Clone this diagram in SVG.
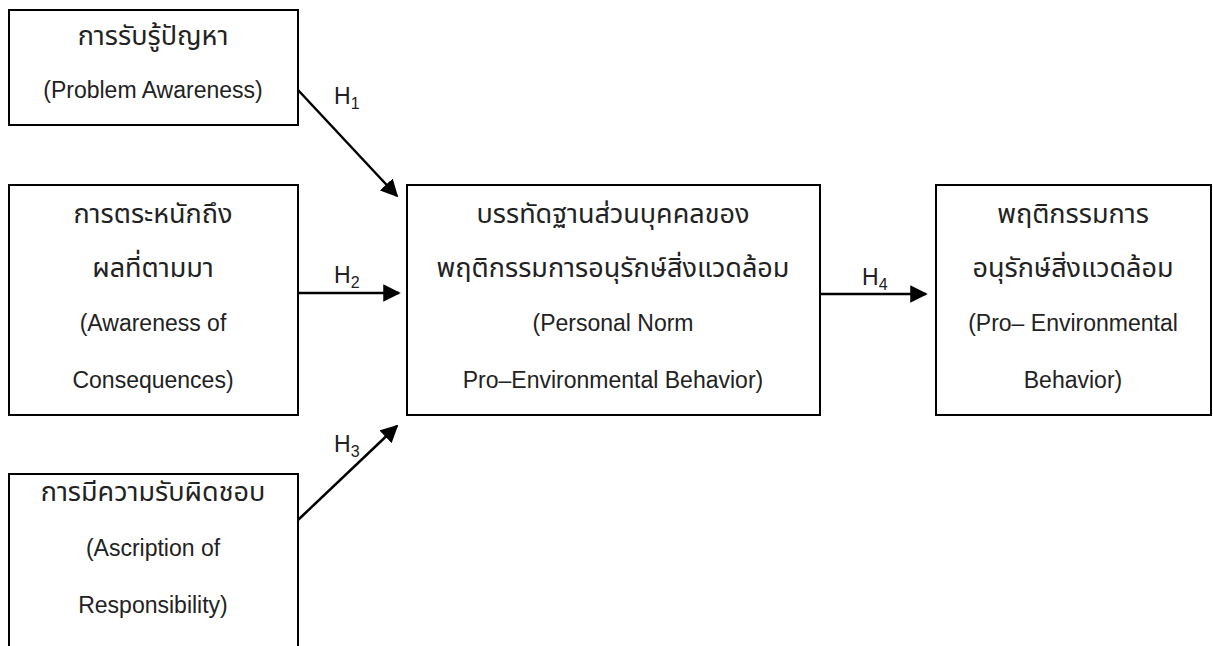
<svg xmlns="http://www.w3.org/2000/svg" width="1213" height="646" viewBox="0 0 1213 646">
<style>
.box{fill:#fff;stroke:#000;stroke-width:2}
.t{font-family:"Liberation Sans","Noto Sans","Noto Sans Thai",sans-serif;font-size:23px;fill:#222;text-anchor:middle}
.th{font-size:27px}
.lbl{font-family:"Liberation Sans","Noto Sans",sans-serif;font-size:23px;fill:#222}
.sub{font-size:16px}
.c{stroke:#000;stroke-width:2.5;fill:none;marker-end:url(#ah)}
</style>
<defs>
<marker id="ah" viewBox="0 0 10 10" refX="9" refY="5" markerWidth="7" markerHeight="7" markerUnits="strokeWidth" orient="auto">
<path d="M0,0 L10,5 L0,10 z" fill="#000"/>
</marker>
</defs>
<g id="connectors">
<line class="c" x1="298" y1="90" x2="397" y2="196"/>
<line class="c" x1="298" y1="293" x2="399" y2="293"/>
<line class="c" x1="298" y1="520" x2="397" y2="426"/>
<line class="c" x1="820" y1="294" x2="926" y2="294"/>
<text class="lbl" x="334" y="104">H<tspan class="sub" dy="5">1</tspan></text>
<text class="lbl" x="334" y="283">H<tspan class="sub" dy="5">2</tspan></text>
<text class="lbl" x="334" y="452">H<tspan class="sub" dy="5">3</tspan></text>
<text class="lbl" x="862" y="285">H<tspan class="sub" dy="5">4</tspan></text>
</g>
<g id="n1">
<rect class="box" x="9" y="10" width="289" height="115"/>
<text class="t th" x="153" y="45">การรับรู้ปัญหา</text>
<text class="t" x="153" y="98">(Problem Awareness)</text>
</g>
<g id="n2">
<rect class="box" x="9" y="185" width="289" height="230"/>
<text class="t th" x="153" y="223">การตระหนักถึง</text>
<text class="t th" x="153" y="277">ผลที่ตามมา</text>
<text class="t" x="153" y="331">(Awareness of</text>
<text class="t" x="153" y="388">Consequences)</text>
</g>
<g id="n3">
<rect class="box" x="9" y="474" width="289" height="190"/>
<text class="t th" x="153" y="501">การมีความรับผิดชอบ</text>
<text class="t" x="153" y="556">(Ascription of</text>
<text class="t" x="153" y="613">Responsibility)</text>
</g>
<g id="n4">
<rect class="box" x="407" y="185" width="413" height="230"/>
<text class="t th" x="613" y="223">บรรทัดฐานส่วนบุคคลของ</text>
<text class="t th" x="613" y="277">พฤติกรรมการอนุรักษ์สิ่งแวดล้อม</text>
<text class="t" x="613" y="331">(Personal Norm</text>
<text class="t" x="613" y="388">Pro–Environmental Behavior)</text>
</g>
<g id="n5">
<rect class="box" x="936" y="185" width="275" height="230"/>
<text class="t th" x="1073" y="223">พฤติกรรมการ</text>
<text class="t th" x="1073" y="277">อนุรักษ์สิ่งแวดล้อม</text>
<text class="t" x="1073" y="331">(Pro– Environmental</text>
<text class="t" x="1073" y="388">Behavior)</text>
</g>
</svg>
